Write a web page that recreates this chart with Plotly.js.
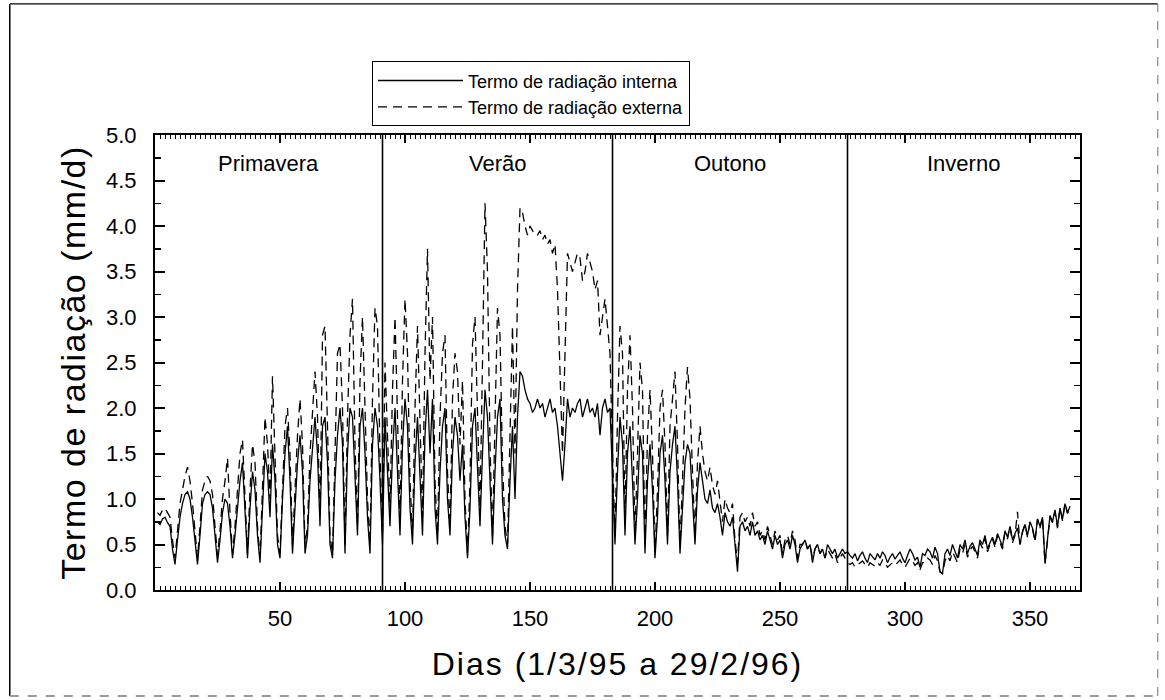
<!DOCTYPE html>
<html>
<head>
<meta charset="utf-8">
<script src="https://cdn.plot.ly/plotly-3.0.1.min.js"></script>
<style>
body{margin:0;background:#fff;}
#chart{width:1165px;height:700px;}
text.ytitle{letter-spacing:1.5px;}
text.xtitle{letter-spacing:2px;}
</style>
</head>
<body>
<div id="chart"></div>
<script>
// Season boundaries (day numbers) and labels
const seasonBounds = [0, 91, 183, 277, 370];
const seasonNames = ["Primavera", "Verão", "Outono", "Inverno"];
const xTicks = [50, 100, 150, 200, 250, 300, 350];
const yTicks = [0, 0.5, 1, 1.5, 2, 2.5, 3, 3.5, 4, 4.5, 5];

// Termo de radiação interna (solid), mm/d — days 1..92
const internaPrimavera = [
0.75,0.72,0.78,0.80,0.74,0.70,0.45,0.28,0.55,0.80,
0.95,1.05,1.08,1.00,0.80,0.50,0.28,0.60,0.95,1.05,
1.08,1.05,0.90,0.60,0.30,0.55,0.85,1.00,0.95,0.70,
0.35,0.60,0.90,1.20,1.40,0.80,0.35,0.90,1.30,1.10,
0.60,0.30,0.90,1.50,1.30,0.80,1.60,1.20,0.50,0.35,
1.00,1.50,1.80,1.20,0.40,0.90,1.40,1.70,1.30,0.40,
0.60,1.20,1.60,1.90,1.50,0.70,1.80,1.90,1.40,0.50,
0.35,1.20,1.70,2.00,1.60,0.40,1.50,2.00,1.90,1.30,
0.60,1.80,2.00,1.50,0.80,0.40,1.60,2.00,1.80,1.20,
0.50,1.90];
// days 93..184
const internaVerao = [
1.20,0.70,1.50,2.00,1.30,0.60,1.60,2.10,
1.80,0.90,0.50,1.40,1.90,1.20,0.60,1.70,2.20,1.50,
2.10,0.90,0.50,1.30,1.80,2.00,1.00,0.60,1.50,1.90,
1.70,1.20,1.60,0.80,0.35,0.90,1.80,2.00,1.40,0.70,
1.50,2.20,1.90,1.10,0.50,1.30,1.90,2.10,1.00,0.60,
0.45,1.20,1.80,1.00,1.90,2.40,2.35,2.20,2.10,2.05,
1.95,2.00,2.10,2.00,2.05,1.90,2.00,2.10,1.95,2.00,
1.80,1.50,1.20,1.60,2.10,1.90,2.00,1.95,2.05,2.10,
1.90,2.00,2.10,1.95,2.00,1.90,2.05,1.70,2.00,2.10,
1.95,2.00,1.20,0.50];
// days 185..276
const internaOutono = [
1.30,1.90,1.60,0.60,1.50,1.80,
1.20,0.50,1.00,1.70,1.50,0.40,1.20,1.60,1.10,0.35,
0.80,1.50,1.70,1.20,0.50,1.30,1.60,1.80,1.20,0.40,
0.90,1.40,1.60,1.50,1.00,0.50,1.10,1.40,1.20,1.00,
0.95,1.10,0.90,0.85,0.95,0.80,0.60,0.85,0.75,0.70,
0.80,0.45,0.20,0.70,0.75,0.65,0.70,0.60,0.75,0.60,
0.65,0.55,0.60,0.50,0.65,0.55,0.45,0.60,0.50,0.55,
0.35,0.50,0.55,0.45,0.60,0.50,0.30,0.45,0.50,0.55,
0.45,0.50,0.30,0.45,0.50,0.40,0.45,0.35,0.50,0.45,
0.40,0.45,0.35,0.40,0.45,0.40];
// days 277..366
const internaInverno = [
0.42,0.38,0.35,0.40,0.32,0.38,0.42,0.35,0.30,0.40,
0.37,0.33,0.40,0.35,0.42,0.38,0.30,0.36,0.40,0.34,
0.38,0.42,0.35,0.30,0.38,0.45,0.40,0.33,0.36,0.25,
0.40,0.38,0.45,0.42,0.35,0.47,0.40,0.20,0.18,0.40,
0.45,0.38,0.50,0.42,0.35,0.50,0.45,0.55,0.40,0.48,
0.52,0.45,0.38,0.55,0.50,0.60,0.45,0.52,0.58,0.50,
0.62,0.55,0.48,0.65,0.58,0.70,0.55,0.62,0.68,0.50,
0.65,0.72,0.60,0.75,0.68,0.55,0.78,0.70,0.80,0.30,
0.60,0.82,0.75,0.88,0.70,0.90,0.78,0.95,0.85,0.92];

// Termo de radiação externa (dashed), mm/d
const externaPrimavera = [
0.85,0.82,0.88,0.90,0.85,0.80,0.55,0.35,0.65,0.95,
1.10,1.25,1.35,1.20,0.95,0.60,0.35,0.70,1.10,1.20,
1.25,1.20,1.05,0.70,0.38,0.65,1.00,1.20,1.45,0.85,
0.40,0.70,1.10,1.50,1.65,0.95,0.40,1.10,1.60,1.40,
0.70,0.35,1.10,1.90,1.60,1.00,2.35,1.50,0.60,0.40,
1.20,1.80,2.00,1.50,0.50,1.10,1.70,2.10,1.60,0.50,
0.70,1.50,2.00,2.40,1.90,0.80,2.80,2.90,1.80,0.60,
0.40,1.50,2.60,2.70,2.00,0.50,1.90,2.80,3.20,1.60,
0.70,2.30,3.00,2.00,1.00,0.50,2.10,3.10,2.90,1.50,
0.60,2.50];
const externaVerao = [
1.60,0.90,2.20,3.00,1.90,0.80,2.30,3.20,
2.60,1.20,0.60,2.00,2.90,1.70,0.80,2.60,3.75,2.30,
3.00,1.20,0.60,1.90,2.60,2.80,1.30,0.70,2.10,2.60,
2.40,1.60,2.30,1.00,0.40,1.20,2.70,3.00,2.00,0.90,
2.50,4.25,3.50,1.60,0.60,2.00,3.10,2.80,1.40,0.70,
0.50,1.70,2.90,1.50,3.30,4.20,4.15,4.00,3.90,4.00,
3.95,3.90,3.90,3.95,3.85,3.90,3.80,3.85,3.70,3.80,
3.30,2.40,1.50,2.60,3.70,3.60,3.50,3.60,3.70,3.65,
3.40,3.50,3.70,3.60,3.50,3.30,3.40,2.80,3.00,3.20,
2.90,2.60,1.50,0.60];
const externaOutono = [
1.90,2.90,2.60,0.80,2.20,2.80,
2.00,0.60,1.50,2.50,2.20,0.50,1.70,2.20,1.50,0.40,
1.10,2.00,2.20,1.60,0.60,1.80,2.10,2.40,1.60,0.50,
1.20,2.00,2.45,2.10,1.30,0.60,1.40,1.80,1.50,1.30,
1.20,1.35,1.15,1.05,1.20,1.00,0.75,1.00,0.90,0.85,
0.95,0.55,0.30,0.80,0.85,0.75,0.80,0.70,0.85,0.70,
0.75,0.60,0.65,0.55,0.70,0.60,0.50,0.65,0.55,0.60,
0.40,0.55,0.60,0.50,0.65,0.55,0.35,0.50,0.50,0.55,
0.45,0.50,0.35,0.45,0.50,0.40,0.45,0.35,0.45,0.40,
0.35,0.40,0.30,0.35,0.40,0.35];
const externaInverno = [
0.30,0.28,0.30,0.25,0.27,0.30,0.32,0.28,0.25,0.30,
0.28,0.26,0.30,0.27,0.33,0.30,0.25,0.28,0.30,0.27,
0.30,0.33,0.28,0.25,0.30,0.35,0.32,0.27,0.30,0.22,
0.30,0.30,0.35,0.33,0.28,0.38,0.32,0.20,0.18,0.32,
0.38,0.32,0.42,0.36,0.30,0.45,0.40,0.50,0.36,0.44,
0.48,0.42,0.35,0.52,0.46,0.57,0.42,0.50,0.56,0.47,
0.60,0.52,0.45,0.64,0.56,0.70,0.52,0.60,0.86,0.50,
0.63,0.72,0.58,0.74,0.67,0.53,0.78,0.68,0.80,0.28,
0.58,0.80,0.74,0.86,0.68,0.90,0.76,0.95,0.84,0.90];

const interna = internaPrimavera.concat(internaVerao, internaOutono, internaInverno);
const externa = externaPrimavera.concat(externaVerao, externaOutono, externaInverno);
const days = interna.map((_, i) => i + 1);

const FONT = "Liberation Sans, Arial, sans-serif";

const traces = [
  {x: days, y: interna, type: "scatter", mode: "lines", name: "Termo de radiação interna",
   line: {color: "#000", width: 1.3}},
  {x: days, y: externa, type: "scatter", mode: "lines", name: "Termo de radiação externa",
   line: {color: "#000", width: 1.3, dash: "9px,6px"}}
];

const shapes = [];
// season dividers
for (let i = 1; i < seasonBounds.length - 1; i++) {
  shapes.push({type: "line", xref: "x", yref: "paper", x0: seasonBounds[i], x1: seasonBounds[i],
               y0: 0, y1: 1, line: {color: "#000", width: 1.6}});
}
// outer frame
shapes.push({type: "line", xref: "paper", yref: "paper", x0: -0.157, x1: -0.157, y0: -0.233, y1: 1.288, line: {color: "#000", width: 1.5}});
shapes.push({type: "line", xref: "paper", yref: "paper", x0: -0.157, x1: 1.084, y0: 1.288, y1: 1.288, line: {color: "#000", width: 1.2}});
shapes.push({type: "line", xref: "paper", yref: "paper", x0: 1.084, x1: 1.084, y0: -0.233, y1: 1.288, line: {color: "#888", width: 1.2, dash: "dash"}});
shapes.push({type: "line", xref: "paper", yref: "paper", x0: -0.157, x1: 1.084, y0: -0.233, y1: -0.233, line: {color: "#999", width: 2, dash: "dash"}});

const annotations = seasonNames.map((s, i) => ({
  x: (seasonBounds[i] + seasonBounds[i + 1]) / 2, xref: "x",
  y: 0.938, yref: "paper", yanchor: "middle", text: s, showarrow: false,
  font: {family: FONT, size: 22, color: "#000"}
}));

const layout = {
  width: 1165, height: 700,
  margin: {l: 155, r: 85, t: 135, b: 110},
  paper_bgcolor: "#fff", plot_bgcolor: "#fff",
  showlegend: true,
  legend: {x: 0.2346, y: 1.162, xanchor: "left", yanchor: "top",
           bordercolor: "#000", borderwidth: 1, bgcolor: "#fff",
           font: {family: FONT, size: 18, color: "#000"}, itemwidth: 85,
           tracegroupgap: 0},
  xaxis: {
    range: [seasonBounds[0], seasonBounds[seasonBounds.length - 1]],
    tickmode: "array", tickvals: xTicks, ticktext: xTicks.map(String),
    ticks: "inside", ticklen: 8, tickwidth: 1.5, tickcolor: "#000",
    minor: {dtick: 2, ticklen: 4, tickwidth: 1, tickcolor: "#000", ticks: "inside"},
    showline: true, linecolor: "#000", linewidth: 2, mirror: "ticks",
    showgrid: false, zeroline: false,
    ticklabelstandoff: 8,
    tickfont: {family: FONT, size: 22, color: "#000"},
    title: {text: "Dias (1/3/95 a 29/2/96)", font: {family: FONT, size: 32, color: "#000"}, standoff: 22}
  },
  yaxis: {
    range: [0, 5],
    tickmode: "array", tickvals: yTicks, ticktext: yTicks.map(v => v.toFixed(1)),
    ticks: "inside", ticklen: 10, tickwidth: 2, tickcolor: "#000",
    minor: {dtick: 0.25, ticklen: 6, tickwidth: 1.5, tickcolor: "#000", ticks: "inside"},
    showline: true, linecolor: "#000", linewidth: 2, mirror: "ticks",
    showgrid: false, zeroline: false,
    ticklabelstandoff: 12,
    tickfont: {family: FONT, size: 22, color: "#000"},
    title: {text: "Termo de radiação (mm/d)", font: {family: FONT, size: 34, color: "#000"}, standoff: 10}
  },
  shapes: shapes,
  annotations: annotations
};

Plotly.newPlot("chart", traces, layout, {displayModeBar: false, staticPlot: true});
</script>
</body>
</html>
